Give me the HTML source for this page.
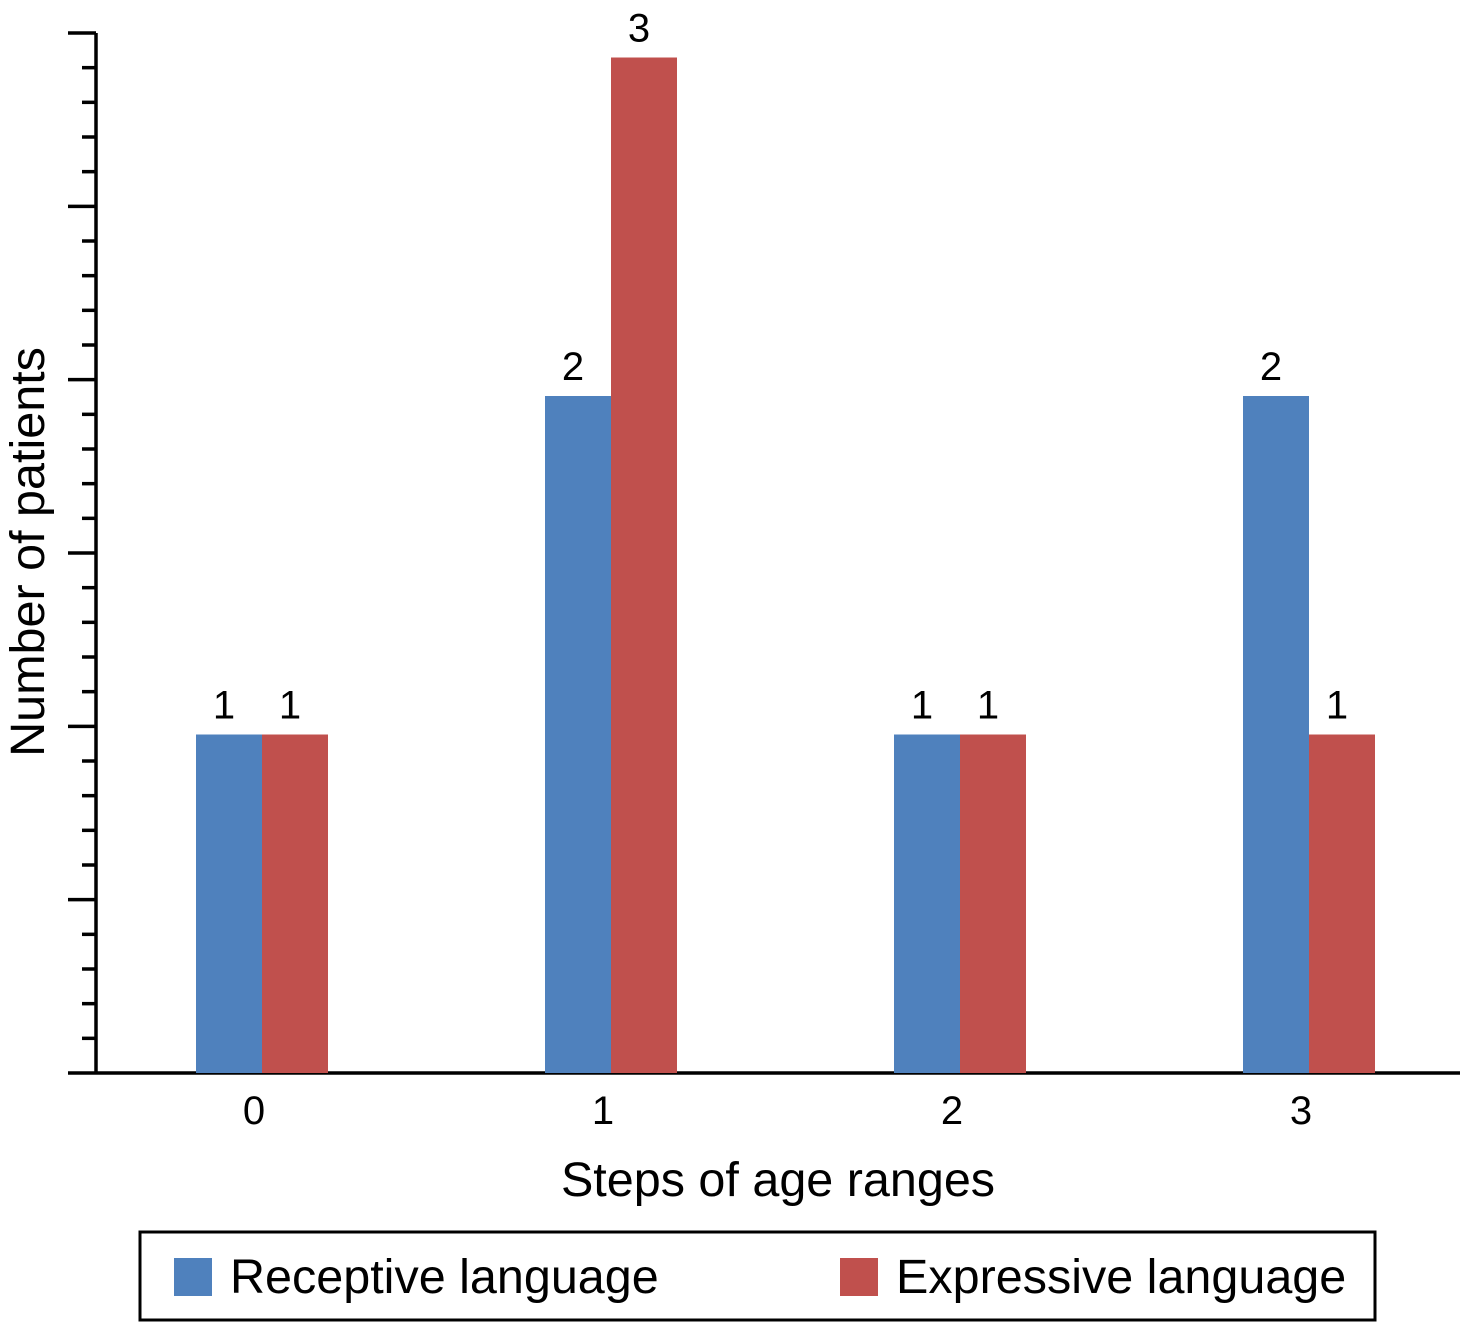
<!DOCTYPE html>
<html><head><meta charset="utf-8"><style>
html,body{margin:0;padding:0;background:#fff;}
svg{display:block;font-family:"Liberation Sans",Arial,sans-serif;}
</style></head><body>
<svg id="chart" width="1460" height="1322" viewBox="0 0 1460 1322" xmlns="http://www.w3.org/2000/svg">
<g id="axes"></g>
<g id="bars"></g>
<text x="778" y="1196" font-size="48.5" text-anchor="middle">Steps of age ranges</text>
<text transform="translate(44,552) rotate(-90)" font-size="48.5" text-anchor="middle">Number of patients</text>
<g>
<rect x="140" y="1232" width="1235" height="88" fill="none" stroke="#000" stroke-width="3"/>
<rect x="174" y="1258" width="38" height="38" fill="#4f81bd"/>
<text x="230" y="1293" font-size="48.5">Receptive language</text>
<rect x="840" y="1258" width="38" height="38" fill="#c0504d"/>
<text x="896" y="1293" font-size="48.5">Expressive language</text>
</g>
</svg>
<script>
const categories = ["0","1","2","3"];
const receptive = [1,2,1,2];
const expressive = [1,3,1,1];
const NS="http://www.w3.org/2000/svg";
const y0=1073, unit=338.5, x0=262, step=349, bw=66;
const yScale=v=>y0-v*unit;
const xCenter=i=>x0+i*step;
function mk(tag,attrs,parent){const e=document.createElementNS(NS,tag);for(const k in attrs)e.setAttribute(k,attrs[k]);parent.appendChild(e);return e;}
const axes=document.getElementById('axes'), bars=document.getElementById('bars');
let l=mk('line',{x1:96,y1:33,x2:96,y2:1074,stroke:'#000','stroke-width':3.5},axes);


l=mk('line',{x1:68,y1:1073,x2:1460,y2:1073,stroke:'#000','stroke-width':3.5},axes);


for(let k=0;k<30;k++){
  const y=33+k*(1040/30);
  const major=k%5===0;
  const t=mk('line',{x1:major?68:82,y1:y,x2:96,y2:y,stroke:'#000','stroke-width':3.5},axes);
  
  
}
categories.forEach((c,i)=>{
  const cx=xCenter(i);
  const t=mk('text',{x:cx-8,y:1124,'font-size':40,'text-anchor':'middle'},axes);
  t.textContent=c;
  
  
  [[receptive[i],'#4f81bd',cx-bw,'receptive'],[expressive[i],'#c0504d',cx,'expressive']].forEach(([v,col,x,nm])=>{
    const r=mk('rect',{x:x,y:yScale(v),width:bw,height:y0-yScale(v),fill:col},bars);
    
    
    const lb=mk('text',{x:x+bw/2-5,y:yScale(v)-16,'font-size':40,'text-anchor':'middle'},bars);
    lb.textContent=v;
    
    
  });
});
</script>
</body></html>
